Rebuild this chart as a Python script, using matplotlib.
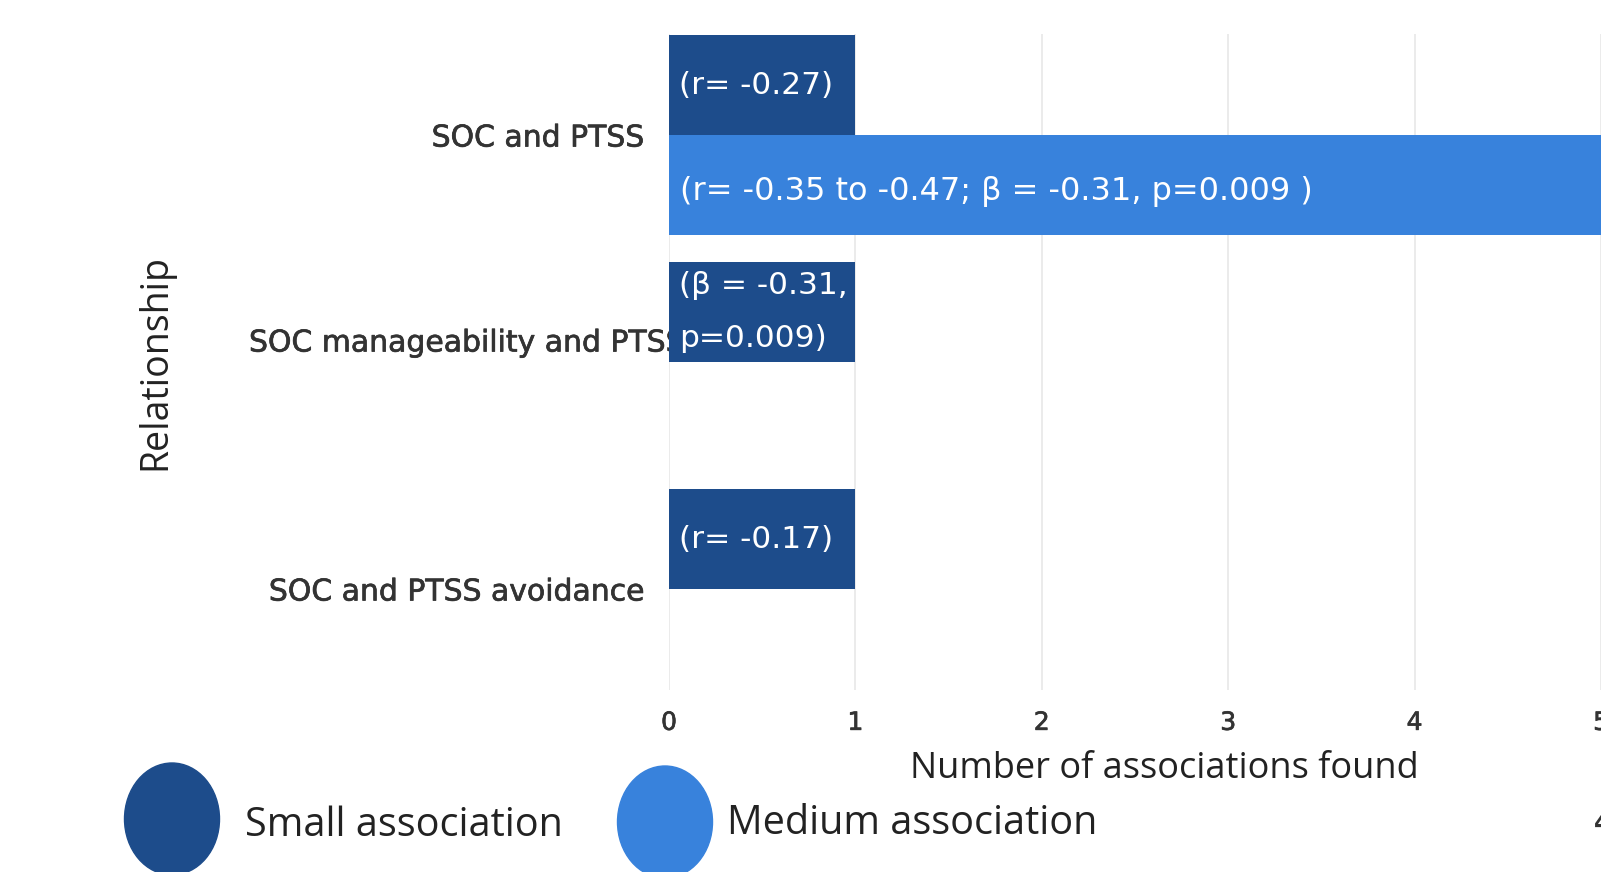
## importing modules
import matplotlib
matplotlib.use('Agg')
import matplotlib.pyplot as plt
import matplotlib.transforms as mtrans
import matplotlib.patheffects as pe
from matplotlib.patches import Ellipse
import numpy as np

## data
relationships = ['SOC and PTSS', 'SOC manageability and PTSS', 'SOC and PTSS avoidance']
small_counts = [1, 1, 1]
medium_counts = [5, 0, 0]
small_notes = ['(r= -0.27)', '(β = -0.31,\np=0.009)', '(r= -0.17)']
medium_notes = ['(r= -0.35 to -0.47; β = -0.31, p=0.009 )', '', '']
series_names = ['Small association', 'Medium association']
x_ticks = [0, 1, 2, 3, 4, 5]

## colours
dark_blue = '#1d4c8b'
light_blue = '#3882dc'
text_grey = '#333333'

## creating the figure and the axis
fig = plt.figure(figsize=(16.01, 8.72), dpi=100)
ax = fig.add_axes([669 / 1601, 1 - 690 / 872, 932 / 1601, 656 / 872])

y = np.arange(len(relationships))
h = 0.44

## the two bar series
ax.barh(y - h / 2, small_counts, height=h, color=dark_blue, zorder=3)
ax.barh(y + h / 2, medium_counts, height=h, color=light_blue, zorder=3)

## notes written inside the bars
for yi, note in zip(y - h / 2, small_notes):
    ax.annotate(note, xy=(0, yi), xytext=(7, 0), textcoords='offset points',
                ha='left', va='center', color='white', fontsize=22.5,
                family='DejaVu Sans', linespacing=2.05, zorder=4)
for yi, note, val in zip(y + h / 2, medium_notes, medium_counts):
    if val > 0:
        ax.annotate(note, xy=(0, yi), xytext=(8, -5), textcoords='offset points',
                    ha='left', va='center', color='white', fontsize=23,
                    family='DejaVu Sans', zorder=4)

## axis limits, ticks and grid
medium_weight = [pe.withStroke(linewidth=0.5, foreground=text_grey)]
ax.set_xlim(0, 5)
ax.set_ylim(2 + 0.445, -0.445)
ax.set_xticks(x_ticks)
ax.set_xticklabels([str(t) for t in x_ticks], fontsize=18, family='DejaVu Sans',
                   color=text_grey, path_effects=medium_weight)
ax.set_yticks(y)
ax.set_yticklabels(relationships, fontsize=21.5, family='DejaVu Sans',
                   color=text_grey, path_effects=medium_weight)
ax.tick_params(axis='both', length=0)
ax.tick_params(axis='y', pad=18)
ax.tick_params(axis='x', pad=15)
ax.grid(axis='x', color='#e8e8e8', linewidth=1.2, zorder=0)
ax.set_axisbelow(True)
for side in ['top', 'right', 'bottom', 'left']:
    ax.spines[side].set_visible(False)

## the middle label sits a bit higher and further right
mid_label = ax.get_yticklabels()[1]
mid_label.set_transform(mid_label.get_transform() +
                        mtrans.ScaledTranslation(0.40, 0.22, fig.dpi_scale_trans))

## axis titles
ax.set_xlabel('Number of associations found', fontsize=26, family='Open Sans',
              color='#222222')
ax.xaxis.set_label_coords((1164 - 669) / 932, -(751 - 690) / 656)
ax.set_ylabel('Relationship', fontsize=27, family='Open Sans', color='#222222')
ax.yaxis.set_label_coords((174 - 669) / 932, 0.5)

## legend drawn as big ellipses at the bottom
legend_items = [(172, 819, dark_blue, 245, 826, series_names[0]),
                (665, 822, light_blue, 727, 824, series_names[1])]
for cx, cy, col, tx, ty, name in legend_items:
    fig.add_artist(Ellipse((cx / 1601, 1 - cy / 872), 95 / 1601, 112 / 872,
                           color=col, transform=fig.transFigure))
    fig.text(tx / 1601, 1 - ty / 872, name, fontsize=28.5, family='Open Sans',
             color='#222222', va='center', ha='left')

## page number peeking in at the right edge
fig.text(1594 / 1601, 1 - 824 / 872, '4', fontsize=18, family='DejaVu Sans',
         fontweight='bold', color=text_grey, va='center', ha='left')

fig.savefig('out.png', dpi=100)
